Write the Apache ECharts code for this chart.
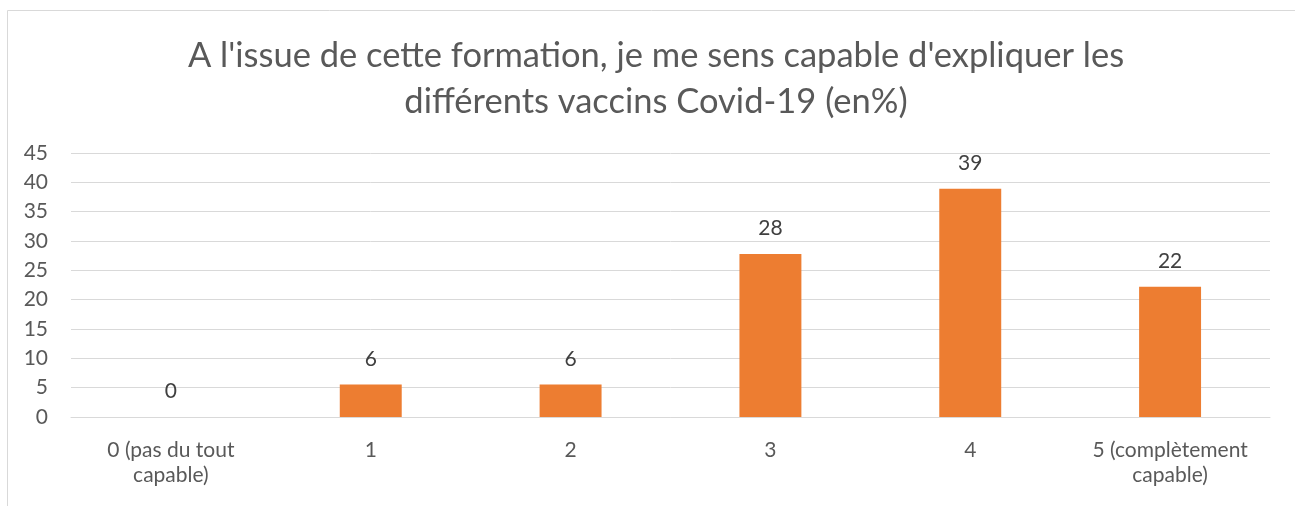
<!DOCTYPE html>
<html lang="fr">
<head>
    <meta charset="UTF-8">
    <title>Vaccins Covid-19</title>
    <script src="https://cdn.jsdelivr.net/npm/echarts@6/dist/echarts.min.js"></script>
    <style>
        html, body { margin: 0; padding: 0; background: #fff; }
        #chart { width: 1295px; height: 506px; }
    </style>
</head>
<body>
    <div id="chart"></div>
    <script>
        var categories = ['0 (pas du tout\ncapable)', '1', '2', '3', '4', '5 (complètement\ncapable)'];
        var values = [0, 5.56, 5.56, 27.78, 38.89, 22.22];
        var yTicks = { min: 0, max: 45, interval: 5 };

        var chart = echarts.init(document.getElementById('chart'));
        var txt = '#595959';
        var font = 'Lato, "Open Sans", sans-serif';

        chart.setOption({
            animation: false,
            title: {
                text: "A l'issue de cette formation, je me sens capable d'expliquer les\ndifférents vaccins Covid-19 (en%)",
                left: 651,
                top: 28,
                textAlign: 'center',
                textStyle: { color: txt, fontSize: 34.5, fontWeight: 'normal', fontFamily: font, lineHeight: 46 }
            },
            graphic: [{
                type: 'rect',
                shape: { x: 7.5, y: 10.5, width: 1300, height: 520 },
                style: { fill: 'none', stroke: '#d9d9d9', lineWidth: 1 },
                silent: true
            }],
            grid: { left: 71, right: 25, top: 153, bottom: 89 },
            xAxis: {
                type: 'category',
                data: categories,
                axisLine: { show: true, lineStyle: { color: '#d9d9d9', width: 1 } },
                axisTick: { show: false },
                axisLabel: { color: txt, fontSize: 21, fontFamily: font, lineHeight: 25, margin: 21, interval: 0 }
            },
            yAxis: {
                type: 'value',
                min: yTicks.min,
                max: yTicks.max,
                interval: yTicks.interval,
                axisLine: { show: false },
                axisTick: { show: false },
                splitLine: { lineStyle: { color: '#d9d9d9', width: 1 } },
                axisLabel: { color: txt, fontSize: 21, fontFamily: font, margin: 23 }
            },
            series: [{
                type: 'bar',
                data: values,
                barWidth: '31%',
                itemStyle: { color: '#ED7D31' },
                label: {
                    show: true,
                    position: 'top',
                    distance: 15,
                    color: '#404040',
                    fontSize: 21,
                    fontFamily: font,
                    formatter: function (p) { return Math.round(p.value); }
                }
            }]
        });
    </script>
</body>
</html>
